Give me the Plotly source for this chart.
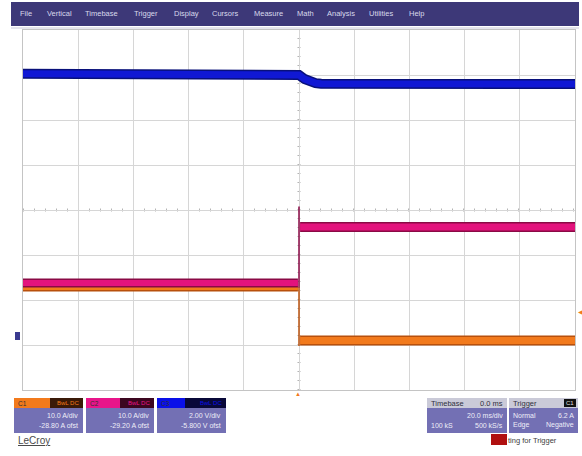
import plotly.graph_objects as go

# ---- data ----
menu_items = ["File", "Vertical", "Timebase", "Trigger", "Display", "Cursors",
              "Measure", "Math", "Analysis", "Utilities", "Help"]
menu_x = [18, 45, 83, 132, 172, 210, 252, 295, 325, 367, 407]

t_pre = [-100.0, -0.4]          # ms
t_post = [0.4, 100.0]           # ms
t_edge = [0.0, 0.0, 0.0]

c1_pre = [11.7, 11.7]           # A  (orange)
c1_post = [-0.2, -0.2]
c1_edge = [11.7, 6.0, -1.4]

c2_pre = [13.0, 13.0]           # A  (pink)
c2_post = [25.4, 25.4]
c2_edge = [12.0, 30.0, 25.4]

c3_t = [-100.0, -50.0, 0.0, 2.0, 4.0, 6.0, 8.0, 100.0]   # ms
c3_v = [11.86, 11.84, 11.80, 11.62, 11.50, 11.44, 11.41, 11.40]  # V (blue)

# channel settings: (units/div, offset)
c1_scale, c1_ofst = 10.0, -28.80
c2_scale, c2_ofst = 10.0, -29.20
c3_scale, c3_ofst = 2.00, -5.800

W, H = 582, 456
L, R, T, B = 23, 575, 30, 390


def xp(px):
    return (px - L) / (R - L)


def yp(py):
    return (B - py) / (B - T)


def to_div(vals, scale, ofst):
    # screen position in graticule divisions, as the scope maps it
    return [(v + ofst) / scale for v in vals]


ORANGE = "#f27a1c"
ORANGE_D = "#b8500c"
PINK = "#e3137d"
PINK_D = "#8a0a45"
BLUE = "#1018d4"
BLUE_D = "#08107a"

fig = go.Figure()


def band(t, v, scale, ofst, col, dark, w_outer, w_inner):
    y = to_div(v, scale, ofst)
    fig.add_trace(go.Scatter(x=t, y=y, mode="lines", line=dict(color=dark, width=w_outer)))
    fig.add_trace(go.Scatter(x=t, y=y, mode="lines", line=dict(color=col, width=w_inner)))


def edge(t, v, scale, ofst, col):
    fig.add_trace(go.Scatter(x=t, y=to_div(v, scale, ofst), mode="lines",
                             line=dict(color=col, width=1.5)))


# orange C1
band(t_pre, c1_pre, c1_scale, c1_ofst, ORANGE, ORANGE_D, 9, 6)
band(t_post, c1_post, c1_scale, c1_ofst, ORANGE, ORANGE_D, 10, 7)
edge(t_edge, c1_edge, c1_scale, c1_ofst, ORANGE_D)
# pink C2
band(t_pre, c2_pre, c2_scale, c2_ofst, PINK, PINK_D, 9, 6)
band(t_post, c2_post, c2_scale, c2_ofst, PINK, PINK_D, 10, 7)
edge(t_edge, c2_edge, c2_scale, c2_ofst, PINK_D)
# blue C3
band(c3_t, c3_v, c3_scale, c3_ofst, BLUE, BLUE_D, 10, 7)

ax_common = dict(showgrid=True, gridcolor="#d6d6d6", gridwidth=1,
                 showticklabels=False, ticks="", zeroline=False,
                 showline=True, mirror=True, linecolor="#c4c4c4", linewidth=1)

fig.update_layout(
    width=W, height=H,
    margin=dict(l=L, r=W - R, t=T, b=H - B),
    paper_bgcolor="white", plot_bgcolor="white",
    showlegend=False,
    xaxis=dict(range=[-100, 100], dtick=20, **ax_common),
    yaxis=dict(range=[-4, 4], dtick=1, **ax_common),
)

shapes = []
ann = []
FONT = "Liberation Sans"

# center graticule tick marks
shapes.append(dict(type="line", xref="paper", yref="paper", x0=0, x1=1, y0=0.5, y1=0.5,
                   line=dict(color="#b4b4b4", width=3, dash="1px,10px"), layer="below"))
shapes.append(dict(type="line", xref="paper", yref="paper", x0=0.5, x1=0.5, y0=0, y1=1,
                   line=dict(color="#b4b4b4", width=3, dash="1px,8px"), layer="below"))

# menu bar
shapes.append(dict(type="rect", xref="paper", yref="paper", x0=xp(11), x1=xp(579),
                   y0=yp(26), y1=yp(2), fillcolor="#3d3878", line=dict(width=0)))
shapes.append(dict(type="line", xref="paper", yref="paper", x0=xp(11), x1=xp(579),
                   y0=yp(28), y1=yp(28), line=dict(color="#dcdce6", width=1.5)))
for name, x in zip(menu_items, menu_x):
    ann.append(dict(x=xp(x), y=yp(14), xref="paper", yref="paper", text=name,
                    showarrow=False, xanchor="left", yanchor="middle",
                    font=dict(family=FONT, size=7.5, color="#d8d8ec")))

BODY = "#7370b4"


def channel_panel(x0, x1, split, col, dark, label, l1, l2):
    shapes.append(dict(type="rect", xref="paper", yref="paper", x0=xp(x0), x1=xp(x1),
                       y0=yp(433), y1=yp(398), fillcolor=BODY, line=dict(width=0)))
    shapes.append(dict(type="rect", xref="paper", yref="paper", x0=xp(x0), x1=xp(split),
                       y0=yp(408), y1=yp(398), fillcolor=col, line=dict(width=0)))
    shapes.append(dict(type="rect", xref="paper", yref="paper", x0=xp(split), x1=xp(x1),
                       y0=yp(408), y1=yp(398), fillcolor=dark, line=dict(width=0)))
    ann.append(dict(x=xp(x0 + 2), y=yp(403), xref="paper", yref="paper", text=label,
                    showarrow=False, xanchor="left", yanchor="middle",
                    font=dict(family=FONT, size=6.5, color="#303030")))
    ann.append(dict(x=xp(x1 - 2), y=yp(403), xref="paper", yref="paper", text="BwL DC",
                    showarrow=False, xanchor="right", yanchor="middle",
                    font=dict(family=FONT, size=6, color=col)))
    for txt, yy in ((l1, 415), (l2, 425)):
        ann.append(dict(x=xp(x1 - 3), y=yp(yy), xref="paper", yref="paper", text=txt,
                        showarrow=False, xanchor="right", yanchor="middle",
                        font=dict(family=FONT, size=7, color="#eeeef8")))


channel_panel(14, 83, 50, ORANGE, "#3a1a08", "C1", f"{c1_scale:.1f} A/div", f"{c1_ofst:.2f} A ofst")
channel_panel(86, 154, 120, "#e8158a", "#3c0620", "C2", f"{c2_scale:.1f} A/div", f"{c2_ofst:.2f} A ofst")
channel_panel(157, 226, 185, "#0a10e8", "#080838", "C3", f"{c3_scale:.2f} V/div", f"{c3_ofst:.3f} V ofst")

# LeCroy logo
ann.append(dict(x=xp(16), y=yp(440), xref="paper", yref="paper", text="<u>LeCroy</u>",
                showarrow=False, xanchor="left", yanchor="middle",
                font=dict(family=FONT, size=10, color="#4a4a4a")))

# Timebase panel
shapes.append(dict(type="rect", xref="paper", yref="paper", x0=xp(427), x1=xp(507),
                   y0=yp(433), y1=yp(398), fillcolor=BODY, line=dict(width=0)))
shapes.append(dict(type="rect", xref="paper", yref="paper", x0=xp(427), x1=xp(507),
                   y0=yp(408), y1=yp(398), fillcolor="#cacad8", line=dict(width=0)))
# Trigger panel
shapes.append(dict(type="rect", xref="paper", yref="paper", x0=xp(509), x1=xp(578),
                   y0=yp(433), y1=yp(398), fillcolor=BODY, line=dict(width=0)))
shapes.append(dict(type="rect", xref="paper", yref="paper", x0=xp(509), x1=xp(578),
                   y0=yp(408), y1=yp(398), fillcolor="#cacad8", line=dict(width=0)))
shapes.append(dict(type="rect", xref="paper", yref="paper", x0=xp(564), x1=xp(576),
                   y0=yp(407), y1=yp(399), fillcolor="#101010", line=dict(width=0)))


def txt(x, y, s, anchor, color, size=7):
    ann.append(dict(x=xp(x), y=yp(y), xref="paper", yref="paper", text=s,
                    showarrow=False, xanchor=anchor, yanchor="middle",
                    font=dict(family=FONT, size=size, color=color)))


txt(429, 403, "Timebase", "left", "#303040", 7.5)
txt(505, 403, "0.0 ms", "right", "#303040", 7.5)
txt(505, 415, "20.0 ms/div", "right", "#eeeef8")
txt(429, 425, "100 kS", "left", "#eeeef8")
txt(505, 425, "500 kS/s", "right", "#eeeef8")
txt(511, 403, "Trigger", "left", "#303040", 7.5)
txt(570, 403, "C1", "center", "#e0e0e0", 6)
txt(511, 415, "Normal", "left", "#eeeef8")
txt(576, 415, "6.2 A", "right", "#eeeef8")
txt(511, 425, "Edge", "left", "#eeeef8")
txt(576, 425, "Negative", "right", "#eeeef8")

# Waiting-for-trigger indicator
shapes.append(dict(type="rect", xref="paper", yref="paper", x0=xp(491), x1=xp(507),
                   y0=yp(445), y1=yp(434), fillcolor="#b01010", line=dict(width=0)))
txt(506, 440, "ting for Trigger", "left", "#404040", 7.5)

# markers
txt(298, 394, "▲", "center", ORANGE, 6)
txt(580, 312, "◀", "center", ORANGE, 6)
shapes.append(dict(type="rect", xref="paper", yref="paper", x0=xp(15), x1=xp(20),
                   y0=yp(340), y1=yp(332), fillcolor="#3a3a90", line=dict(width=0)))

fig.update_layout(shapes=shapes, annotations=ann)

fig.write_html("out.html", config={"displayModeBar": False},
               post_script="document.body.style.margin='0';")
